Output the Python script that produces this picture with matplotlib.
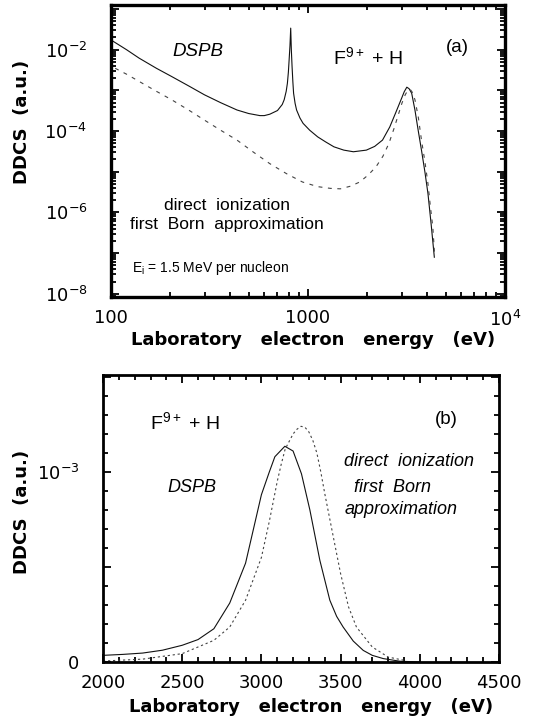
import numpy as np
import matplotlib
matplotlib.use('Agg')
import matplotlib.pyplot as plt
from matplotlib.ticker import FixedLocator, FixedFormatter, MultipleLocator, LogLocator, NullFormatter

plt.rcParams['font.family'] = ['Liberation Sans', 'DejaVu Sans']
plt.rcParams['mathtext.fontset'] = 'custom'
plt.rcParams['mathtext.rm'] = 'DejaVu Sans'
plt.rcParams['mathtext.it'] = 'DejaVu Sans:italic'
plt.rcParams['mathtext.default'] = 'regular'

# panel (a): log-log spectrum
energy_a_dspb = [100, 120, 139, 170, 203, 250, 298, 360, 436, 500, 570, 600,
                 640, 700, 740, 757, 775, 786, 795, 802, 810, 817, 823, 830,
                 838, 845, 860, 875, 910, 944, 1020, 1120, 1230, 1354, 1520,
                 1700, 1978, 2180, 2389, 2600, 2781, 2990, 3080, 3174, 3260,
                 3360, 3490, 3630, 3767, 3920, 4064, 4220, 4378]
ddcs_a_dspb = [1.74e-2, 1.0e-2, 6.2e-3, 3.5e-3, 2.2e-3, 1.26e-3, 7.8e-4,
               5.0e-4, 3.3e-4, 2.7e-4, 2.4e-4, 2.4e-4, 2.6e-4, 3.2e-4, 4.5e-4,
               5.9e-4, 9.5e-4, 1.5e-3, 2.8e-3, 5.6e-3, 1.26e-2, 3.4e-2, 1.0e-2,
               3.9e-3, 1.6e-3, 8.5e-4, 4.8e-4, 3.3e-4, 2.1e-4, 1.55e-4, 1.05e-4,
               7.2e-5, 5.4e-5, 4.1e-5, 3.4e-5, 3.1e-5, 3.4e-5, 4.2e-5, 6.0e-5,
               1.26e-4, 2.75e-4, 6.5e-4, 9.3e-4, 1.2e-3, 1.1e-3, 8.5e-4, 3.3e-4,
               1.0e-4, 3.4e-5, 1.0e-5, 2.9e-6, 5.0e-7, 7.9e-8]

energy_a_born = [105, 120, 139, 170, 203, 250, 298, 360, 436, 530, 640, 780,
                 937, 1120, 1300, 1459, 1640, 1832, 2020, 2214, 2400, 2576,
                 2740, 2890, 3000, 3115, 3210, 3297, 3390, 3490, 3630, 3767,
                 3920, 4064, 4180, 4300, 4400]
ddcs_a_born = [3.5e-3, 2.5e-3, 1.66e-3, 9.5e-4, 5.9e-4, 3.2e-4, 1.86e-4,
               1.05e-4, 6.0e-5, 3.0e-5, 1.58e-5, 8.9e-6, 5.6e-6, 4.3e-6,
               3.9e-6, 3.8e-6, 4.4e-6, 5.6e-6, 8.3e-6, 1.32e-5, 2.4e-5,
               5.0e-5, 1.2e-4, 2.75e-4, 4.9e-4, 7.8e-4, 1.0e-3, 1.07e-3,
               8.9e-4, 5.9e-4, 2.2e-4, 6.0e-5, 1.8e-5, 5.1e-6, 1.4e-6,
               4.4e-7, 8.0e-8]

# panel (b): linear view of the binary-encounter peak
energy_b_dspb = [2000, 2125, 2250, 2375, 2500, 2600, 2700, 2800, 2900, 2950,
                 3000, 3050, 3085, 3148, 3200, 3253, 3306, 3369, 3432, 3475,
                 3516, 3580, 3643, 3700, 3769, 3875, 4000]
ddcs_b_dspb = [0.035e-3, 0.040e-3, 0.047e-3, 0.062e-3, 0.088e-3, 0.118e-3,
               0.175e-3, 0.31e-3, 0.52e-3, 0.70e-3, 0.88e-3, 1.00e-3, 1.08e-3,
               1.135e-3, 1.11e-3, 0.99e-3, 0.80e-3, 0.535e-3, 0.325e-3,
               0.24e-3, 0.184e-3, 0.11e-3, 0.061e-3, 0.035e-3, 0.018e-3,
               0.004e-3, 0.0]

energy_b_born = [2000, 2250, 2500, 2700, 2800, 2900, 3000, 3050, 3100, 3125,
                 3150, 3200, 3225, 3250, 3275, 3300, 3325, 3350, 3375, 3400,
                 3450, 3500, 3550, 3600, 3700, 3800, 3900]
ddcs_b_born = [0.005e-3, 0.015e-3, 0.044e-3, 0.114e-3, 0.184e-3, 0.325e-3,
               0.55e-3, 0.74e-3, 0.95e-3, 1.04e-3, 1.12e-3, 1.20e-3, 1.225e-3,
               1.24e-3, 1.235e-3, 1.21e-3, 1.165e-3, 1.10e-3, 1.00e-3,
               0.886e-3, 0.675e-3, 0.465e-3, 0.29e-3, 0.184e-3, 0.079e-3,
               0.026e-3, 0.009e-3]

W, H = 535, 722
fig = plt.figure(figsize=(W / 100, H / 100), dpi=100)


def box(l, t, r, b):
    return [l / W, 1 - b / H, (r - l) / W, (b - t) / H]


def ftxt(x, y, s, **kw):
    fig.text(x / W, 1 - y / H, s, **kw)


def style_ticks(axis, spine_w):
    for s in axis.spines.values():
        s.set_linewidth(spine_w)
    axis.tick_params(which='both', direction='in', top=True, right=True, width=1.3)
    axis.tick_params(which='major', length=6, labelsize=13)
    axis.tick_params(which='minor', length=3.5)
    axis.tick_params(axis='x', which='major', pad=9)
    axis.tick_params(axis='y', which='major', pad=17)
    for lab in axis.get_xticklabels() + axis.get_yticklabels():
        lab.set_fontfamily('DejaVu Sans')


# ---- panel (a)
ax = fig.add_axes(box(111, 5, 505, 297))
ax.plot(energy_a_dspb, ddcs_a_dspb, color='#111111', lw=0.8)
ax.plot(energy_a_born, ddcs_a_born, color='#444444', lw=0.8, dashes=(3.5, 5))
ax.set_xscale('log')
ax.set_yscale('log')
ax.set_xlim(100, 1e4)
ax.set_ylim(10 ** -8.08, 10 ** -0.9)
ax.xaxis.set_major_locator(FixedLocator([100, 1000, 1e4]))
ax.xaxis.set_major_formatter(FixedFormatter(['100', '1000', '$10^4$']))
ax.xaxis.set_minor_locator(LogLocator(base=10, subs=np.arange(2, 10)))
ax.xaxis.set_minor_formatter(NullFormatter())
ax.yaxis.set_major_locator(FixedLocator([10.0 ** k for k in range(-8, 0)]))
ax.yaxis.set_major_formatter(FixedFormatter(
    ['$10^{-8}$', '', '$10^{-6}$', '', '$10^{-4}$', '', '$10^{-2}$', '']))
ax.yaxis.set_minor_locator(LogLocator(base=10, subs=np.arange(2, 10), numticks=20))
ax.yaxis.set_minor_formatter(NullFormatter())
style_ticks(ax, 2.4)

ftxt(172, 51, 'DSPB', fontsize=13.5, style='italic', va='center')
ftxt(333, 57, 'F$^{9+}$ + H', fontsize=14, va='center')
ftxt(446, 48, '(a)', fontsize=13.5, va='center')
ftxt(227, 205, 'direct  ionization', fontsize=12.5, ha='center', va='center')
ftxt(227, 225, 'first  Born  approximation', fontsize=12.5, ha='center', va='center')
ftxt(132, 268, 'E$_i$ = 1.5 MeV per nucleon', fontsize=10, va='center')
ftxt(22, 122, 'DDCS  (a.u.)', fontsize=13, fontweight='bold', rotation=90,
     ha='center', va='center', family='DejaVu Sans')
ftxt(313, 340, 'Laboratory   electron   energy   (eV)', fontsize=13,
     fontweight='bold', ha='center', va='center', family='DejaVu Sans')

# ---- panel (b)
bx = fig.add_axes(box(103, 375, 499, 662))
bx.plot(energy_b_dspb, ddcs_b_dspb, color='#111111', lw=0.8)
bx.plot(energy_b_born, ddcs_b_born, color='#444444', lw=0.8, dashes=(2, 2.5))
bx.set_xlim(2000, 4500)
bx.set_ylim(0, 1.51e-3)
bx.xaxis.set_major_locator(MultipleLocator(500))
bx.xaxis.set_minor_locator(MultipleLocator(100))
bx.yaxis.set_major_locator(FixedLocator([0, 0.5e-3, 1.0e-3, 1.5e-3]))
bx.yaxis.set_major_formatter(FixedFormatter(['0', '', '$10^{-3}$', '']))
bx.yaxis.set_minor_locator(MultipleLocator(0.1e-3))
style_ticks(bx, 2.0)

ftxt(150, 422, 'F$^{9+}$ + H', fontsize=14, va='center')
ftxt(435, 420, '(b)', fontsize=13.5, va='center')
ftxt(167, 487, 'DSPB', fontsize=13, style='italic', va='center')
ftxt(409, 462, 'direct  ionization', fontsize=13, style='italic', ha='center', va='center')
ftxt(393, 487, 'first  Born', fontsize=13, style='italic', ha='center', va='center')
ftxt(401, 510, 'approximation', fontsize=13, style='italic', ha='center', va='center')
ftxt(22, 512, 'DDCS  (a.u.)', fontsize=13, fontweight='bold', rotation=90,
     ha='center', va='center', family='DejaVu Sans')
ftxt(311, 707, 'Laboratory   electron   energy   (eV)', fontsize=13,
     fontweight='bold', ha='center', va='center', family='DejaVu Sans')

fig.savefig('out.png', dpi=100)
